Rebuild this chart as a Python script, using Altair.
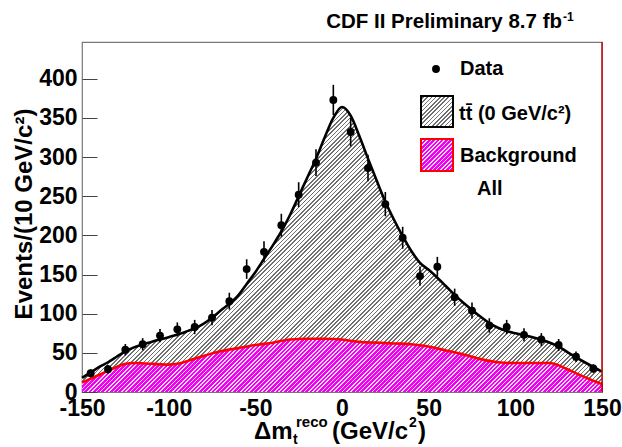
import altair as alt
import pandas as pd

# ---------------- data ----------------
bin_centers = [-145, -135, -125, -115, -105, -95, -85, -75, -65, -55,
               -45, -35, -25, -15, -5, 5, 15, 25, 35, 45,
               55, 65, 75, 85, 95, 105, 115, 125, 135, 145]
counts = [24, 29, 54, 61, 72, 80, 83, 95, 116, 157,
          179, 213, 252, 293, 373, 332, 286, 240, 197, 148,
          160, 121, 104, 85, 83, 73, 67, 60, 45, 30]
errors = [4.9, 5.4, 7.3, 7.8, 8.5, 8.9, 9.1, 9.7, 10.8, 12.5,
          13.4, 14.6, 15.9, 17.1, 19.3, 18.2, 16.9, 15.5, 14.0, 12.2,
          12.6, 11.0, 10.2, 9.2, 9.1, 8.5, 8.2, 7.7, 6.7, 5.5]

fit_x = [-150, -145, -140, -135, -130, -125, -120, -110, -100, -90, -80, -70,
         -60, -55, -50, -45, -40, -35, -30, -25, -20, -15, -10, -5, 0,
         5, 10, 15, 20, 25, 30, 35, 40, 45, 50, 55, 60, 65, 70, 75, 80,
         85, 90, 95, 100, 110, 120, 125, 130, 140, 150]
fit_total = [18, 25, 32, 38, 45, 52, 57, 64, 70, 77, 87, 104,
             123, 138, 153, 170, 187, 205, 226, 250, 274, 298, 325, 350, 364,
             353, 327, 298, 270, 243, 220, 199, 180, 165, 156, 146, 135, 124, 114, 105, 96,
             88, 82, 78, 75, 70, 63, 58, 51, 38, 26]

bkg_x = [-150, -140, -130, -125, -120, -110, -100, -95, -90, -80, -70, -60, -50,
         -40, -30, -20, -10, 0, 10, 20, 30, 40, 50, 60, 70, 80, 90, 100,
         110, 120, 125, 130, 140, 150]
bkg_y = [12, 22, 32, 36, 37, 36, 35, 36, 39, 46, 52, 56, 60,
         63, 67, 68, 68, 67, 64, 63, 62, 61, 58, 53, 48, 42, 38, 37,
         37, 37, 34, 29, 19, 10]

x_ticks = [-150, -100, -50, 0, 50, 100, 150]
y_ticks = [0, 50, 100, 150, 200, 250, 300, 350, 400]

# ---------------- tables ----------------
pts = pd.DataFrame({"x": bin_centers, "y": counts, "e": errors})
pts["lo"] = pts["y"] - pts["e"]
pts["hi"] = pts["y"] + pts["e"]
fit = pd.DataFrame({"x": fit_x, "y": fit_total})
bkg = pd.DataFrame({"x": bkg_x, "y": bkg_y})
one = pd.DataFrame({"k": [0]})

FONT = "Liberation Sans"
W, H = 520, 350
YMAX = 447


def stripes(w, h, period, c1, c2, frac2):
    """Diagonal '/' stripes as a linear gradient over the mark's bounding box."""
    t = (w + h) / (w * w + h * h)
    n = int(round((w + h) / 1.41421 / period))
    stops = []
    for k in range(n):
        a = k / n
        b = (k + 1 - frac2) / n
        c = (k + 1) / n
        stops += [{"offset": a, "color": c1}, {"offset": b, "color": c1},
                  {"offset": b, "color": c2}, {"offset": c, "color": c2}]
    return {"gradient": "linear", "x1": 0, "y1": 0, "x2": t * w, "y2": t * h,
            "stops": stops}


hatch_main = stripes(W, max(fit_total) * H / YMAX, 3.0, "#ffffff", "#707070", 0.38)
hatch_bkg = stripes(W, max(bkg_y) * H / YMAX, 3.0, "#f000f0", "#ffd8ff", 0.38)
hatch_leg1 = stripes(32, 31, 3.0, "#ffffff", "#707070", 0.38)
hatch_leg2 = stripes(32, 32, 3.0, "#f000f0", "#ffd8ff", 0.38)

xs = alt.Scale(domain=[-150, 150], nice=False, zero=False)
ys = alt.Scale(domain=[0, YMAX], nice=False)

x_axis = alt.Axis(values=x_ticks, labelExpr="'' + datum.value", title=None,
                  grid=False, domain=False, tickSize=10, offset=-10,
                  tickColor="#444", labelPadding=5, labelFont=FONT,
                  labelFontWeight="bold", labelFontSize=23, labelColor="black",
                  labelFlush=False, labelOverlap=False)
y_axis = alt.Axis(values=y_ticks, title=None, grid=False, domain=False,
                  tickSize=15, offset=-15, tickColor="#444", labelPadding=5,
                  labelFont=FONT, labelFontWeight="bold", labelFontSize=23,
                  labelColor="black", labelFlush=False, labelOverlap=False)

total_area = alt.Chart(fit).mark_area(fill=hatch_main, interpolate="monotone").encode(
    x=alt.X("x:Q", scale=xs, axis=x_axis),
    y=alt.Y("y:Q", scale=ys, axis=y_axis),
)
bkg_area = alt.Chart(bkg).mark_area(fill=hatch_bkg, interpolate="monotone").encode(
    x=alt.X("x:Q", scale=xs), y=alt.Y("y:Q", scale=ys))
bkg_line = alt.Chart(bkg).mark_line(color="#ff0000", strokeWidth=2.6,
                                    interpolate="monotone").encode(
    x=alt.X("x:Q", scale=xs), y=alt.Y("y:Q", scale=ys))
fit_line = alt.Chart(fit).mark_line(color="black", strokeWidth=2.6,
                                    interpolate="monotone").encode(
    x=alt.X("x:Q", scale=xs), y=alt.Y("y:Q", scale=ys))
err_bars = alt.Chart(pts).mark_rule(color="black", strokeWidth=1.6).encode(
    x=alt.X("x:Q", scale=xs), y=alt.Y("lo:Q", scale=ys), y2="hi:Q")
points = alt.Chart(pts).mark_point(filled=True, shape="circle", size=62,
                                   color="black", opacity=1).encode(
    x=alt.X("x:Q", scale=xs), y=alt.Y("y:Q", scale=ys))
right_edge = alt.Chart(one).mark_rule(color="#cc0000", strokeWidth=1.4).encode(
    x=alt.datum(150))


def txt(s, x, y, size, align="left", angle=0, baseline="alphabetic"):
    kw = dict(font=FONT, fontWeight="bold", fontSize=size, align=align,
              baseline=baseline, color="black")
    if angle:
        kw["angle"] = angle
    return alt.Chart(pd.DataFrame({"t": [s]})).mark_text(**kw).encode(
        x=alt.value(x), y=alt.value(y), text="t:N")


# legend
leg_dot = alt.Chart(one).mark_point(filled=True, shape="circle", size=62,
                                    color="black", opacity=1).encode(
    x=alt.value(354), y=alt.value(27))
leg_box1 = alt.Chart(one).mark_rect(fill=hatch_leg1, stroke="black", strokeWidth=2).encode(
    x=alt.value(339), x2=alt.value(371), y=alt.value(54), y2=alt.value(85))
leg_box2 = alt.Chart(one).mark_rect(fill=hatch_leg2, stroke="#ff0000", strokeWidth=2).encode(
    x=alt.value(339), x2=alt.value(371), y=alt.value(97), y2=alt.value(129))

texts = [
    txt("Data", 378, 33, 20),
    txt("tt\u0304 (0 GeV/c\u00b2)", 377, 78, 20),
    txt("Background", 378, 120, 20),
    txt("All", 395, 153, 20),
    # top title
    txt("CDF II Preliminary 8.7 fb", 480, -14, 20.5, align="right"),
    txt("-1", 481, -21, 12),
    # y title
    txt("Events/(10 GeV/c\u00b2)", -57, 172, 24, align="center", angle=270,
        baseline="middle"),
    # x title pieces
    txt("\u0394m", 172, 397, 24),
    txt("t", 211, 402, 14),
    txt("reco", 214, 385, 15),
    txt("(GeV/c", 250, 397, 24),
    txt("2", 327, 385, 14),
    txt(")", 336, 397, 24),
]

chart = alt.layer(
    total_area, bkg_area, bkg_line, fit_line, err_bars, points, right_edge,
    leg_dot, leg_box1, leg_box2, *texts
).properties(
    width=W, height=H,
    autosize=alt.AutoSizeParams(type="none"),
    padding={"left": 82, "top": 42, "right": 20, "bottom": 55},
    background="white",
).configure_view(stroke="#777", strokeWidth=1.2)

chart.save("out.html", embed_options={"renderer": "svg", "actions": False})
